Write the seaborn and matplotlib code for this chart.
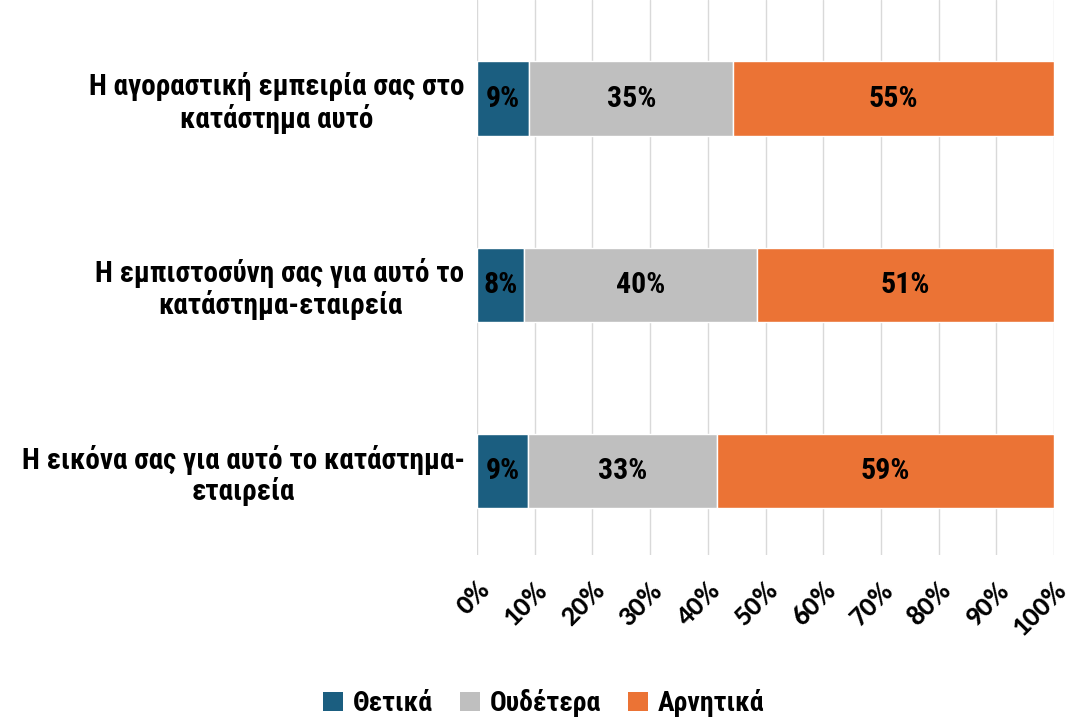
import numpy as np
import pandas as pd
import matplotlib
matplotlib.use("Agg")
import matplotlib.pyplot as plt
import seaborn as sns
from matplotlib.patches import Patch

categories = [
    "Η αγοραστική εμπειρία σας στο\nκατάστημα αυτό",
    "Η εμπιστοσύνη σας για αυτό το\nκατάστημα-εταιρεία",
    "Η εικόνα σας για αυτό το κατάστημα-\nεταιρεία",
]
series_names = ["Θετικά", "Ουδέτερα", "Αρνητικά"]
positive = [9, 8, 9]
neutral = [35, 40, 33]
negative = [55, 51, 59]
colors = ["#1B5E80", "#BFBFBF", "#EB7335"]
tick_labels = [f"{v}%" for v in range(0, 101, 10)]

sns.set_theme(style="white")
plt.rcParams["text.color"] = "black"
plt.rcParams["xtick.color"] = "black"
plt.rcParams["ytick.color"] = "black"
label_font = ["Roboto Condensed", "DejaVu Sans"]
tick_font = ["Carlito", "DejaVu Sans"]

df = pd.DataFrame({"cat": categories, "Θετικά": positive, "Ουδέτερα": neutral, "Αρνητικά": negative})
totals = df[series_names].sum(axis=1)
for s in series_names:
    df[s + "_pct"] = df[s] / totals * 100

fig = plt.figure(figsize=(10.83, 7.19), dpi=100)
ax = fig.add_axes([477 / 1083, 1 - 555 / 719, (1054 - 477) / 1083, 555 / 719])

left = np.zeros(len(df))
for s, c in zip(series_names, colors):
    bars = ax.barh(df["cat"], df[s + "_pct"], left=left, height=0.4, color=c, zorder=3)
    for i, b in enumerate(bars):
        ax.text(b.get_x() + b.get_width() / 2, b.get_y() + b.get_height() / 2,
                f"{df[s].iloc[i]}%", ha="center", va="center", fontsize=21.5,
                fontweight="bold", family=label_font, color="black", zorder=4)
    left = left + df[s + "_pct"].values

ax.set_xlim(0, 100)
ax.set_ylim(2.45, -0.53)
ax.set_xticks(range(0, 101, 10))
ax.set_xticklabels(tick_labels, rotation=45, ha="right", va="top",
                   rotation_mode="anchor", fontsize=20.5, fontweight="bold",
                   family=tick_font)
ax.tick_params(axis="x", pad=16, length=0)
ax.set_yticks(range(len(categories)))
ax.set_yticklabels(categories, fontsize=21, fontweight="bold", family=label_font,
                   ha="right", multialignment="center", linespacing=1.1)
ax.tick_params(axis="y", length=0, pad=9)
ax.grid(axis="x", color="#D9D9D9", linewidth=1, zorder=0)
ax.grid(axis="y", visible=False)
for sp in ax.spines.values():
    sp.set_visible(False)

handles = [Patch(facecolor=c, edgecolor="none") for c in colors]
fig.legend(handles, series_names, loc="center", bbox_to_anchor=(0.502, 1 - 703 / 719),
           ncol=3, frameon=False, handlelength=0.7, handleheight=0.7, handletextpad=0.35,
           columnspacing=1.0, prop={"family": label_font, "weight": "bold", "size": 20})

fig.savefig("out.png", dpi=100)
